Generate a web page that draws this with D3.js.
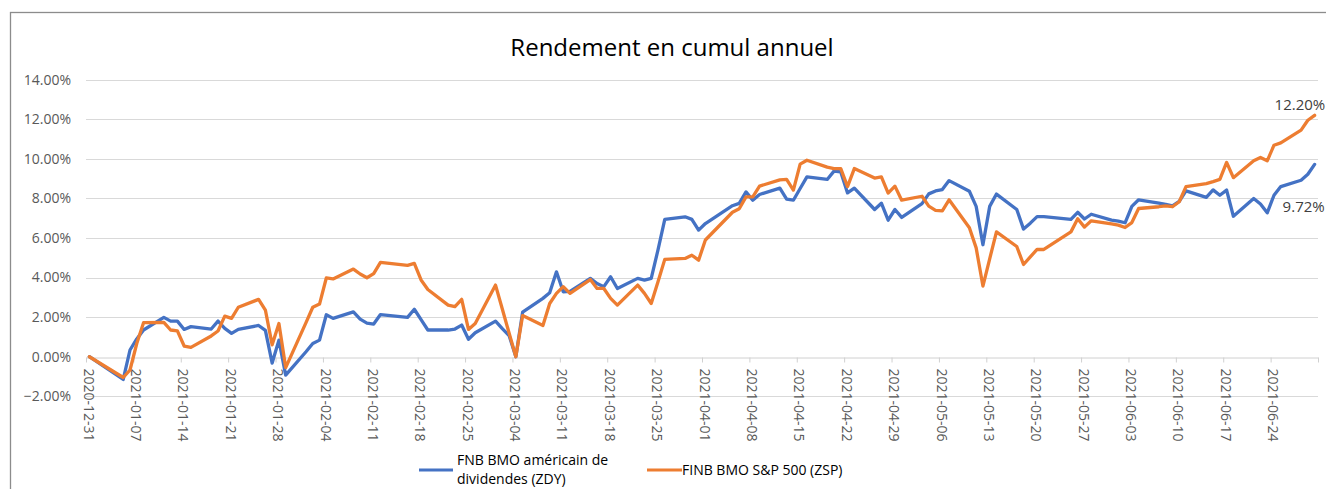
<!DOCTYPE html>
<html>
<head>
<meta charset="utf-8">
<script src="https://cdn.jsdelivr.net/npm/d3@7"></script>
<style>
	body { margin: 0; background: #fff; }
	svg { display: block; font-family: "Open Sans", sans-serif; }
</style>
</head>
<body>
<svg id="chart" width="1326" height="489"></svg>
<script>
var dates = ["2020-12-31",
	"2021-01-05","2021-01-06","2021-01-07","2021-01-08","2021-01-11","2021-01-12","2021-01-13","2021-01-14","2021-01-15",
	"2021-01-18","2021-01-19","2021-01-20","2021-01-21","2021-01-22","2021-01-25","2021-01-26","2021-01-27","2021-01-28","2021-01-29",
	"2021-02-01","2021-02-02","2021-02-03","2021-02-04","2021-02-05","2021-02-08","2021-02-09","2021-02-10","2021-02-11","2021-02-12",
	"2021-02-16","2021-02-17","2021-02-18","2021-02-19","2021-02-22","2021-02-23","2021-02-24","2021-02-25","2021-02-26",
	"2021-03-01","2021-03-02","2021-03-03","2021-03-04","2021-03-05","2021-03-08","2021-03-09","2021-03-10","2021-03-11","2021-03-12",
	"2021-03-15","2021-03-16","2021-03-17","2021-03-18","2021-03-19","2021-03-22","2021-03-23","2021-03-24","2021-03-25","2021-03-26",
	"2021-03-29","2021-03-30","2021-03-31","2021-04-01","2021-04-05","2021-04-06","2021-04-07","2021-04-08","2021-04-09",
	"2021-04-12","2021-04-13","2021-04-14","2021-04-15","2021-04-16","2021-04-19","2021-04-20","2021-04-21","2021-04-22","2021-04-23",
	"2021-04-26","2021-04-27","2021-04-28","2021-04-29","2021-04-30","2021-05-03","2021-05-04","2021-05-05","2021-05-06","2021-05-07",
	"2021-05-10","2021-05-11","2021-05-12","2021-05-13","2021-05-14","2021-05-17","2021-05-18","2021-05-19","2021-05-20","2021-05-21",
	"2021-05-25","2021-05-26","2021-05-27","2021-05-28","2021-05-31","2021-06-01","2021-06-02","2021-06-03","2021-06-04",
	"2021-06-07","2021-06-08","2021-06-09","2021-06-10","2021-06-11","2021-06-14","2021-06-15","2021-06-16","2021-06-17","2021-06-18",
	"2021-06-21","2021-06-22","2021-06-23","2021-06-24","2021-06-25","2021-06-28","2021-06-29","2021-06-30"];

// cumulative return, in %
var zdy = [0,
	-1.15, 0.34, 0.90, 1.35, 1.99, 1.80, 1.80, 1.38, 1.52,
	1.40, 1.80, 1.43, 1.18, 1.38, 1.58, 1.33, -0.32, 0.84, -0.93,
	0.25, 0.67, 0.84, 2.12, 1.94, 2.27, 1.90, 1.70, 1.65, 2.13,
	1.99, 2.40, 1.87, 1.35, 1.35, 1.40, 1.60, 0.88, 1.21,
	1.80, 1.42, 1.07, 0.00, 2.25, 2.95, 3.23, 4.29, 3.28, 3.30,
	3.96, 3.70, 3.54, 4.04, 3.45, 3.96, 3.87, 3.96, 5.40, 6.94,
	7.07, 6.94, 6.40, 6.73, 7.63, 7.75, 8.33, 7.91, 8.20,
	8.52, 7.97, 7.91, 8.50, 9.09, 8.96, 9.38, 9.34, 8.28, 8.52,
	7.44, 7.76, 6.90, 7.44, 7.04, 7.74, 8.23, 8.38, 8.45, 8.90,
	8.36, 7.60, 5.66, 7.60, 8.22, 7.44, 6.45, 6.75, 7.08, 7.08,
	6.94, 7.30, 6.96, 7.20, 6.90, 6.85, 6.77, 7.60, 7.93,
	7.76, 7.70, 7.62, 7.85, 8.38, 8.05, 8.43, 8.16, 8.42, 7.10,
	8.00, 7.72, 7.27, 8.16, 8.60, 8.92, 9.22, 9.72];

var zsp = [0,
	-1.05, -0.67, 0.67, 1.72, 1.74, 1.35, 1.31, 0.54, 0.47,
	1.05, 1.30, 2.05, 1.94, 2.50, 2.90, 2.36, 0.60, 1.68, -0.55,
	1.72, 2.50, 2.66, 3.98, 3.93, 4.43, 4.18, 3.99, 4.20, 4.77,
	4.62, 4.72, 3.88, 3.40, 2.61, 2.53, 2.90, 1.38, 1.68,
	3.62, 2.41, 1.20, 0.00, 2.08, 1.58, 2.69, 3.20, 3.54, 3.20,
	3.90, 3.45, 3.45, 2.95, 2.61, 3.62, 3.20, 2.69, 3.79, 4.92,
	4.97, 5.13, 4.88, 5.90, 7.30, 7.48, 8.08, 8.08, 8.62,
	8.94, 8.96, 8.42, 9.73, 9.93, 9.58, 9.51, 9.51, 8.60, 9.51,
	9.03, 9.09, 8.27, 8.62, 7.91, 8.11, 7.61, 7.40, 7.37, 7.93,
	6.52, 5.50, 3.57, 4.95, 6.31, 5.57, 4.66, 5.05, 5.42, 5.42,
	6.31, 6.97, 6.55, 6.87, 6.71, 6.65, 6.53, 6.78, 7.49,
	7.58, 7.62, 7.58, 7.83, 8.60, 8.75, 8.85, 8.96, 9.82, 9.05,
	9.90, 10.07, 9.90, 10.69, 10.81, 11.45, 11.95, 12.20];

var xTickLabels = ["2020-12-31","2021-01-07","2021-01-14","2021-01-21","2021-01-28","2021-02-04","2021-02-11",
	"2021-02-18","2021-02-25","2021-03-04","2021-03-11","2021-03-18","2021-03-25","2021-04-01","2021-04-08",
	"2021-04-15","2021-04-22","2021-04-29","2021-05-06","2021-05-13","2021-05-20","2021-05-27","2021-06-03",
	"2021-06-10","2021-06-17","2021-06-24"];
var yTicks = [-2, 0, 2, 4, 6, 8, 10, 12, 14];
var seriesNames = ["FNB BMO américain de dividendes (ZDY)", "FINB BMO S&P 500 (ZSP)"];
var seriesColors = ["#4472C4", "#ED7D31"];

var parse = d3.utcParse("%Y-%m-%d");
var svg = d3.select("#chart");

var x = d3.scaleUtc()
	.domain([parse("2020-12-31"), parse("2021-07-01")])
	.range([86, 1318]);
var y = d3.scaleLinear().domain([-2, 14]).range([396.3, 79.7]);

// each day is a slot, the point sits in the middle of it
function mid(s) {
	return d3.utcHour.offset(parse(s), 12);
}

// frame
svg.append("rect")
	.attr("x", 10.5).attr("y", 12.5)
	.attr("width", 1500).attr("height", 600)
	.attr("fill", "none").attr("stroke", "#8c8c8c").attr("stroke-width", 1.3);

svg.append("text")
	.attr("x", 672).attr("y", 56)
	.attr("text-anchor", "middle")
	.attr("font-size", 24)
	.attr("fill", "#000")
	.text("Rendement en cumul annuel");

// gridlines
svg.append("g").selectAll("line")
	.data(yTicks.filter(function(v) { return v != 0; }))
	.join("line")
	.attr("x1", 86).attr("x2", 1318)
	.attr("y1", function(v) { return Math.round(y(v)) + 0.5; })
	.attr("y2", function(v) { return Math.round(y(v)) + 0.5; })
	.attr("stroke", "#d9d9d9").attr("stroke-width", 1);

svg.append("g").selectAll("text")
	.data(yTicks)
	.join("text")
	.attr("x", 71).attr("y", function(v) { return y(v); })
	.attr("dy", "0.35em")
	.attr("text-anchor", "end")
	.attr("font-size", 14)
	.attr("fill", "#595959")
	.text(function(v) { return d3.format(".2f")(v) + "%"; });

var xAxis = d3.axisBottom(x)
	.tickValues(xTickLabels.map(parse).concat([parse("2021-07-01")]))
	.tickSize(5)
	.tickSizeOuter(0)
	.tickFormat(function(d) { return d < parse("2021-07-01") ? d3.utcFormat("%Y-%m-%d")(d) : ""; });

var gx = svg.append("g")
	.attr("transform", "translate(0," + (Math.round(y(0)) + 0.5) + ")")
	.call(xAxis);
gx.select(".domain").attr("stroke", "#d0d0d0");
gx.selectAll(".tick line").attr("stroke", "#d0d0d0");
gx.selectAll(".tick text")
	.attr("transform", "rotate(90)")
	.attr("x", 11).attr("y", -2)
	.attr("dy", "0.35em")
	.attr("text-anchor", "start")
	.attr("font-size", 14)
	.attr("font-family", "Open Sans, sans-serif")
	.attr("fill", "#595959");

var line = d3.line()
	.x(function(d) { return x(mid(d.date)); })
	.y(function(d) { return y(d.v); });

[zdy, zsp].forEach(function(vals, i) {
	var pts = dates.map(function(d, k) { return {date: d, v: vals[k]}; });
	svg.append("path")
		.datum(pts)
		.attr("d", line)
		.attr("fill", "none")
		.attr("stroke", seriesColors[i])
		.attr("stroke-width", 3.3)
		.attr("stroke-linejoin", "round")
		.attr("stroke-linecap", "round");
});

// labels at the last point
var last = dates[dates.length - 1];
svg.append("text")
	.attr("x", x(mid(last)) - 40).attr("y", y(zsp[zsp.length - 1]) - 5)
	.attr("font-size", 15).attr("fill", "#404040")
	.text(d3.format(".2f")(zsp[zsp.length - 1]) + "%");
svg.append("text")
	.attr("x", x(mid(last)) - 32).attr("y", y(zdy[zdy.length - 1]) + 48)
	.attr("font-size", 15).attr("fill", "#404040")
	.text(d3.format(".2f")(zdy[zdy.length - 1]) + "%");

// legend
var lg = svg.append("g");
lg.append("line")
	.attr("x1", 419).attr("x2", 453).attr("y1", 470).attr("y2", 470)
	.attr("stroke", seriesColors[0]).attr("stroke-width", 3);
lg.append("text")
	.attr("x", 457).attr("y", 465)
	.attr("font-size", 14).attr("fill", "#000")
	.text("FNB BMO américain de");
lg.append("text")
	.attr("x", 457).attr("y", 484)
	.attr("font-size", 14).attr("fill", "#000")
	.text("dividendes (ZDY)");
lg.append("line")
	.attr("x1", 647).attr("x2", 682).attr("y1", 470).attr("y2", 470)
	.attr("stroke", seriesColors[1]).attr("stroke-width", 3);
lg.append("text")
	.attr("x", 682).attr("y", 475)
	.attr("font-size", 14).attr("fill", "#000")
	.text(seriesNames[1]);
</script>
</body>
</html>
